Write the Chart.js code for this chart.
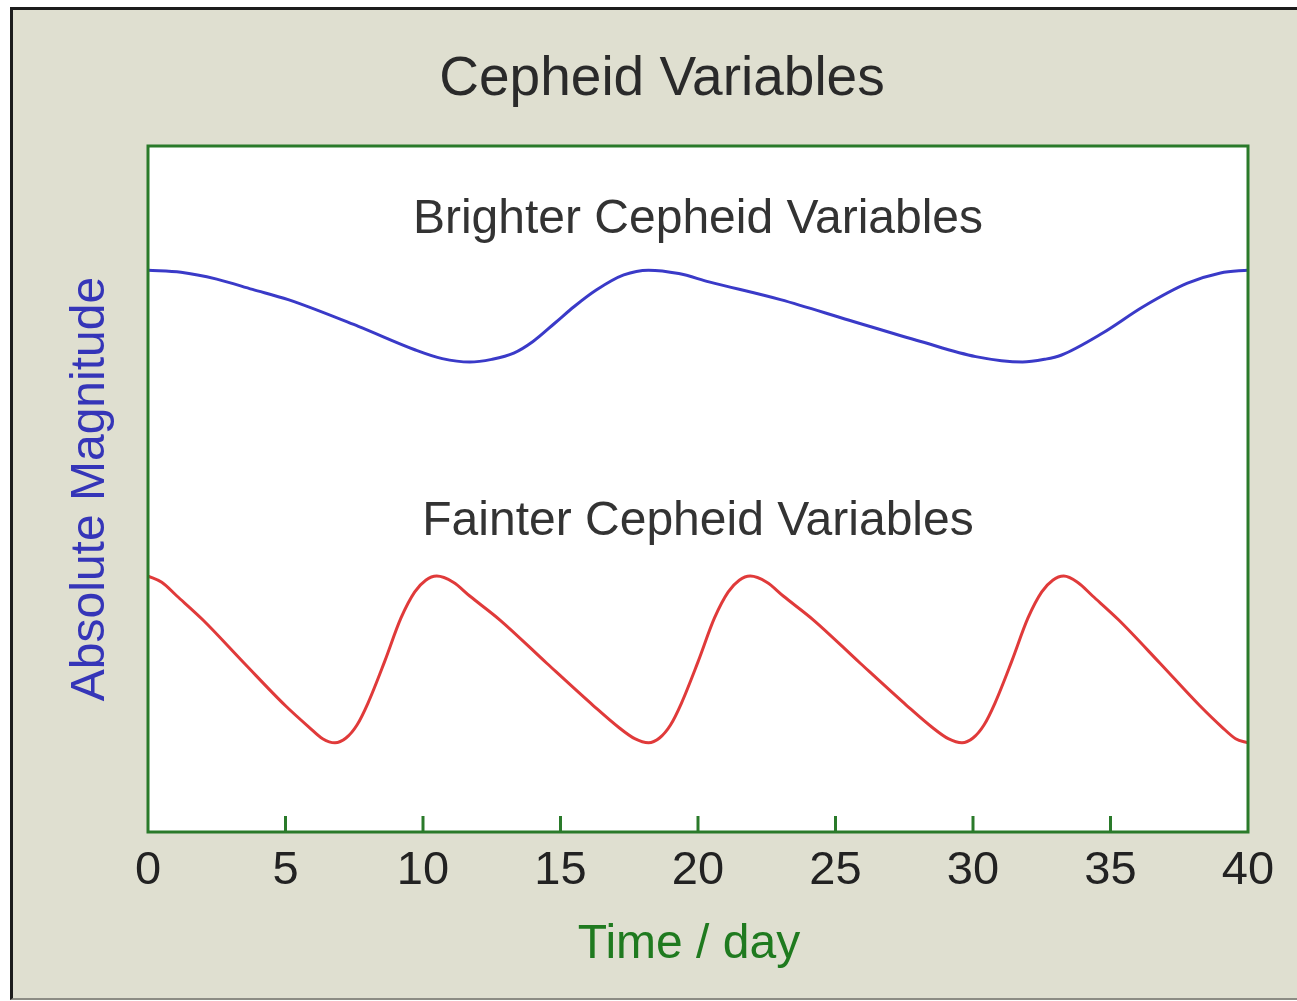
<!DOCTYPE html>
<html>
<head>
<meta charset="utf-8">
<script src="https://cdn.jsdelivr.net/npm/chart.js@4/dist/chart.umd.min.js"></script>
<style>
    html, body { margin: 0; padding: 0; background: #ffffff; }
    #frame {
        position: absolute;
        left: 10px;
        top: 7px;
        width: 1287px;
        height: 988px;
        background: #dfdfd0;
        border-left: 3px solid #1c1c1c;
        border-top: 3px solid #1c1c1c;
        border-bottom: 2px solid #8c8c84;
    }
    #wrap { position: relative; width: 1284px; height: 988px; }
</style>
</head>
<body>
<div id="frame"><div id="wrap"><canvas id="cepheidChart"></canvas></div></div>
<script>
// ===== Data =====
const chartTitle = 'Cepheid Variables';
const xTitle = 'Time / day';
const yTitle = 'Absolute Magnitude';
const xTicks = [0, 5, 10, 15, 20, 25, 30, 35, 40];

// brighter Cepheid (long period)
const brightDays = [0, 1.2, 2.5, 3.8, 5.1, 7.65, 9.7, 10.7, 11.7, 12.5, 13.3, 14.0, 14.8, 15.5, 16.3, 17.3, 18.2,
                    19.3, 20.4, 23, 25.5, 28.1, 30.1, 31.8, 32.6, 33.2, 34.7, 36.2, 37.8, 39, 40];
const brightMag  = [8.19, 8.16, 8.06, 7.91, 7.76, 7.37, 7.03, 6.90, 6.85, 6.89, 6.98, 7.15, 7.42, 7.66, 7.90, 8.12, 8.19,
                    8.14, 8.02, 7.76, 7.46, 7.15, 6.93, 6.85, 6.89, 6.95, 7.27, 7.66, 8.00, 8.15, 8.19];

// fainter Cepheid (short period)
const faintDays = [0, 0.5, 1.05, 2.0, 3.5, 5.0, 5.85, 6.35, 6.8,
                   7.2, 7.6, 8.0, 8.6, 9.2, 9.7, 10.1, 10.5,
                   11.1, 11.7, 12.8, 14.5, 16.2, 17.1, 17.7, 18.2,
                   18.6, 19.0, 19.4, 20.0, 20.6, 21.1, 21.5, 21.9,
                   22.5, 23.1, 24.2, 25.9, 27.6, 28.5, 29.1, 29.6,
                   30.0, 30.4, 30.8, 31.4, 32.0, 32.5, 32.9, 33.3,
                   33.8, 34.35, 35.3, 36.8, 38.25, 39.05, 39.55, 40];
const faintMag  = [3.73, 3.64, 3.44, 3.09, 2.46, 1.84, 1.53, 1.36, 1.30,
                   1.37, 1.56, 1.88, 2.48, 3.12, 3.50, 3.67, 3.73,
                   3.64, 3.44, 3.09, 2.46, 1.84, 1.53, 1.36, 1.30,
                   1.37, 1.56, 1.88, 2.48, 3.12, 3.50, 3.67, 3.73,
                   3.64, 3.44, 3.09, 2.46, 1.84, 1.53, 1.36, 1.30,
                   1.37, 1.56, 1.88, 2.48, 3.12, 3.50, 3.67, 3.73,
                   3.64, 3.44, 3.09, 2.46, 1.84, 1.53, 1.36, 1.30];

const seriesLabels = ['Brighter Cepheid Variables', 'Fainter Cepheid Variables'];
const labelAt = [{x: 20, y: 8.93}, {x: 20, y: 4.52}];

const FONT = '"Liberation Sans", Arial, Helvetica, sans-serif';
const GREEN = '#2a7a2a';

function toPoints(xs, ys) {
    return xs.map((x, i) => ({x: x, y: ys[i]}));
}

// ===== Plot box, ticks and texts =====
const decorPlugin = {
    id: 'decor',
    beforeDatasetsDraw(chart) {
        const {ctx, chartArea: a} = chart;
        ctx.save();
        ctx.fillStyle = '#ffffff';
        ctx.fillRect(a.left, a.top, a.right - a.left, a.bottom - a.top);
        ctx.restore();
    },
    afterDraw(chart) {
        const {ctx, chartArea: a, scales} = chart;
        ctx.save();
        // inner tick marks
        ctx.strokeStyle = GREEN;
        ctx.lineWidth = 3;
        xTicks.slice(1, -1).forEach(t => {
            const px = scales.x.getPixelForValue(t);
            ctx.beginPath();
            ctx.moveTo(px, a.bottom);
            ctx.lineTo(px, a.bottom - 16);
            ctx.stroke();
        });
        // plot border
        ctx.strokeRect(a.left, a.top, a.right - a.left, a.bottom - a.top);

        // series captions
        ctx.fillStyle = '#333333';
        ctx.font = '48px ' + FONT;
        ctx.textAlign = 'center';
        ctx.textBaseline = 'middle';
        seriesLabels.forEach((s, i) => {
            ctx.fillText(s, scales.x.getPixelForValue(labelAt[i].x), scales.y.getPixelForValue(labelAt[i].y));
        });

        // x axis title (sits slightly left of the plot centre)
        ctx.fillStyle = '#1f7a1f';
        ctx.fillText(xTitle, (a.left + a.right) / 2 - 9, 935);

        // main title
        ctx.fillStyle = '#2a2a2a';
        ctx.font = '55px ' + FONT;
        ctx.fillText(chartTitle, chart.width / 2 + 7, 70);
        ctx.restore();
    }
};

const ctx = document.getElementById('cepheidChart').getContext('2d');
const chart = new Chart(ctx, {
    type: 'line',
    data: {
        datasets: [
            {
                label: seriesLabels[0],
                data: toPoints(brightDays, brightMag),
                borderColor: '#3a3ac8',
                borderWidth: 3,
                pointRadius: 0,
                cubicInterpolationMode: 'monotone',
                fill: false
            },
            {
                label: seriesLabels[1],
                data: toPoints(faintDays, faintMag),
                borderColor: '#e03a3a',
                borderWidth: 3,
                pointRadius: 0,
                cubicInterpolationMode: 'monotone',
                fill: false
            }
        ]
    },
    options: {
        responsive: true,
        maintainAspectRatio: false,
        animation: false,
        layout: {padding: {top: 136, right: 49, left: 0, bottom: 0}},
        plugins: {
            legend: {display: false},
            tooltip: {enabled: false},
            title: {display: false}
        },
        scales: {
            x: {
                type: 'linear',
                min: 0,
                max: 40,
                afterBuildTicks: (scale) => { scale.ticks = xTicks.map(v => ({value: v})); },
                afterFit: (scale) => { scale.height = 166; },
                grid: {display: false, drawTicks: false},
                border: {display: false},
                ticks: {
                    color: '#222222',
                    padding: 11,
                    maxRotation: 0,
                    font: {family: FONT, size: 47}
                },
                title: {display: false}
            },
            y: {
                min: 0,
                max: 10,
                afterFit: (scale) => { scale.width = 135; },
                grid: {display: false, drawTicks: false},
                border: {display: false},
                ticks: {display: false},
                title: {
                    display: true,
                    text: yTitle,
                    color: '#3535b8',
                    padding: {top: 49, bottom: 0},
                    font: {family: FONT, size: 48}
                }
            }
        }
    },
    plugins: [decorPlugin]
});
</script>
</body>
</html>
